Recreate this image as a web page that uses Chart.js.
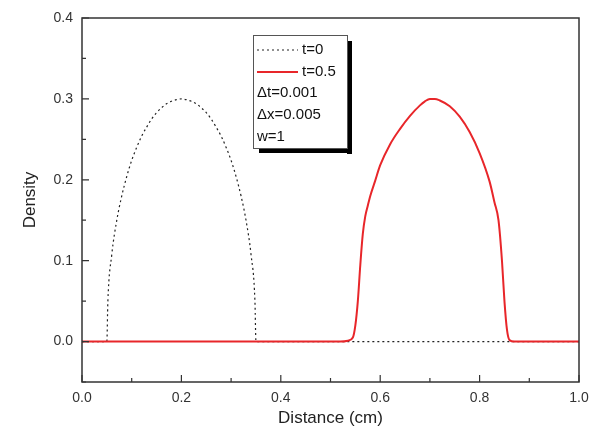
<!DOCTYPE html>
<html>
<head>
<meta charset="utf-8">
<script src="https://cdn.jsdelivr.net/npm/chart.js@4"></script>
<style>
    html, body { margin: 0; padding: 0; background: #ffffff; }
    #wrap { width: 601px; height: 434px; }
</style>
</head>
<body>
<div id="wrap"><canvas id="grafico" width="601" height="434"></canvas></div>
<script>

// t=0 : initial profile
const xInicial = [0, 0.05, 0.052, 0.06, 0.07, 0.08, 0.09, 0.10, 0.11, 0.12, 0.13, 0.14, 0.15, 0.16, 0.17, 0.18, 0.19, 0.20,
    0.21, 0.22, 0.23, 0.24, 0.25, 0.26, 0.27, 0.28, 0.29, 0.30, 0.31, 0.32, 0.33, 0.34, 0.348, 0.35, 1.0];
const yInicial = [0, 0, 0.049, 0.108, 0.150, 0.180, 0.204, 0.224, 0.240, 0.254, 0.265, 0.275, 0.283, 0.289, 0.294, 0.297, 0.299, 0.300,
    0.299, 0.297, 0.294, 0.289, 0.283, 0.275, 0.265, 0.254, 0.240, 0.224, 0.204, 0.180, 0.150, 0.108, 0.049, 0, 0];

// t=0.5
const xFinal = [0, 0.52, 0.535, 0.545, 0.55, 0.555, 0.56, 0.565, 0.57, 0.575, 0.58, 0.59, 0.60, 0.62, 0.64, 0.66, 0.68, 0.69, 0.70,
    0.71, 0.72, 0.74, 0.76, 0.78, 0.80, 0.82, 0.83, 0.838, 0.845, 0.85, 0.855, 0.86, 0.87, 1.0];
const yFinal = [0, 0, 0.001, 0.005, 0.02, 0.05, 0.095, 0.133, 0.155, 0.168, 0.180, 0.199, 0.218, 0.244, 0.263, 0.279, 0.292, 0.297, 0.300,
    0.300, 0.298, 0.291, 0.278, 0.259, 0.233, 0.198, 0.172, 0.150, 0.100, 0.050, 0.015, 0.002, 0, 0];

const xTicks = [0, 0.2, 0.4, 0.6, 0.8, 1.0];
const yTicks = [0, 0.1, 0.2, 0.3, 0.4];
const xMinor = [0.1, 0.3, 0.5, 0.7, 0.9];
const yMinor = [-0.05, 0.05, 0.15, 0.25, 0.35];

const legendaLinhas = ["t=0", "t=0.5"];
const legendaTexto = ["\u0394t=0.001", "\u0394x=0.005", "w=1"];

const fonte = "'Liberation Sans', Arial, sans-serif";

function pontos(xs, ys) {
    return xs.map(function(x, i) {
        return { x: x, y: ys[i] };
    });
}

// frame, inward ticks and the boxed legend
const moldura = {
    id: "moldura",
    afterDraw: function(chart) {
        const ctx = chart.ctx;
        const a = chart.chartArea;
        const sx = chart.scales.x;
        const sy = chart.scales.y;

        ctx.save();
        ctx.strokeStyle = "#333333";
        ctx.lineWidth = 1.5;
        ctx.strokeRect(a.left, a.top, a.right - a.left, a.bottom - a.top);

        ctx.lineWidth = 1.2;
        ctx.beginPath();
        xTicks.forEach(function(v) {
            let p = sx.getPixelForValue(v);
            ctx.moveTo(p, a.bottom); ctx.lineTo(p, a.bottom - 7);
        });
        xMinor.forEach(function(v) {
            let p = sx.getPixelForValue(v);
            ctx.moveTo(p, a.bottom); ctx.lineTo(p, a.bottom - 4);
        });
        yTicks.forEach(function(v) {
            let p = sy.getPixelForValue(v);
            ctx.moveTo(a.left, p); ctx.lineTo(a.left + 7, p);
        });
        yMinor.forEach(function(v) {
            let p = sy.getPixelForValue(v);
            ctx.moveTo(a.left, p); ctx.lineTo(a.left + 4, p);
        });
        ctx.stroke();

        // legend box
        let bx = 253, by = 35, bw = 94, bh = 113;
        ctx.fillStyle = "#000000";
        ctx.fillRect(bx + bw, by + 6, 5, bh);
        ctx.fillRect(bx + 6, by + bh, bw - 1, 5);
        ctx.fillStyle = "#ffffff";
        ctx.fillRect(bx, by, bw, bh);
        ctx.strokeStyle = "#555555";
        ctx.lineWidth = 1;
        ctx.strokeRect(bx + 0.5, by + 0.5, bw, bh);

        ctx.font = "15px " + fonte;
        ctx.textBaseline = "middle";
        ctx.textAlign = "left";
        ctx.fillStyle = "#111111";

        let linhas = [
            { cor: "#222222", dash: [2, 3], largura: 1.2 },
            { cor: "#e8262a", dash: [], largura: 2 }
        ];
        legendaLinhas.forEach(function(txt, i) {
            let yy = by + 15 + i * 22;
            ctx.strokeStyle = linhas[i].cor;
            ctx.lineWidth = linhas[i].largura;
            ctx.setLineDash(linhas[i].dash);
            ctx.beginPath();
            ctx.moveTo(bx + 4, yy); ctx.lineTo(bx + 45, yy);
            ctx.stroke();
            ctx.setLineDash([]);
            ctx.fillText(txt, bx + 49, yy);
        });
        legendaTexto.forEach(function(txt, i) {
            ctx.fillText(txt, bx + 4, by + 58 + i * 22);
        });
        ctx.restore();
    }
};

new Chart(document.getElementById("grafico"), {
    type: "line",
    data: {
        datasets: [
            {
                label: "t=0.5",
                data: pontos(xFinal, yFinal),
                borderColor: "#e8262a",
                borderWidth: 2,
                pointRadius: 0,
                cubicInterpolationMode: "monotone",
                fill: false
            },
            {
                label: "t=0",
                data: pontos(xInicial, yInicial),
                borderColor: "#222222",
                borderWidth: 1.2,
                borderDash: [2, 3],
                pointRadius: 0,
                cubicInterpolationMode: "monotone",
                fill: false
            }
        ]
    },
    options: {
        responsive: false,
        animation: false,
        layout: {
            padding: { left: 0, top: 18, right: 22, bottom: 0 }
        },
        plugins: {
            legend: { display: false },
            tooltip: { enabled: false }
        },
        scales: {
            x: {
                type: "linear",
                min: 0,
                max: 1,
                afterFit: function(scale) { scale.height = 52; },
                afterBuildTicks: function(scale) {
                    scale.ticks = xTicks.map(function(v) { return { value: v }; });
                },
                grid: { display: false, drawTicks: false },
                border: { display: false },
                ticks: {
                    padding: 8,
                    color: "#333333",
                    font: { size: 14, family: fonte },
                    maxRotation: 0,
                    callback: function(v) { return Number(v).toFixed(1); }
                },
                title: {
                    display: true,
                    text: "Distance (cm)",
                    color: "#222222",
                    font: { size: 17, family: fonte },
                    padding: { top: 0, bottom: 5 }
                }
            },
            y: {
                type: "linear",
                min: -0.05,
                max: 0.4,
                afterFit: function(scale) { scale.width = 82; },
                afterBuildTicks: function(scale) {
                    scale.ticks = yTicks.map(function(v) { return { value: v }; });
                },
                grid: { display: false, drawTicks: false },
                border: { display: false },
                ticks: {
                    padding: 9,
                    color: "#333333",
                    font: { size: 14, family: fonte },
                    callback: function(v) { return Number(v).toFixed(1); }
                },
                title: {
                    display: true,
                    text: "Density",
                    color: "#222222",
                    font: { size: 17, family: fonte },
                    padding: { top: 20, bottom: 0 }
                }
            }
        }
    },
    plugins: [moldura]
});
</script>
</body>
</html>
